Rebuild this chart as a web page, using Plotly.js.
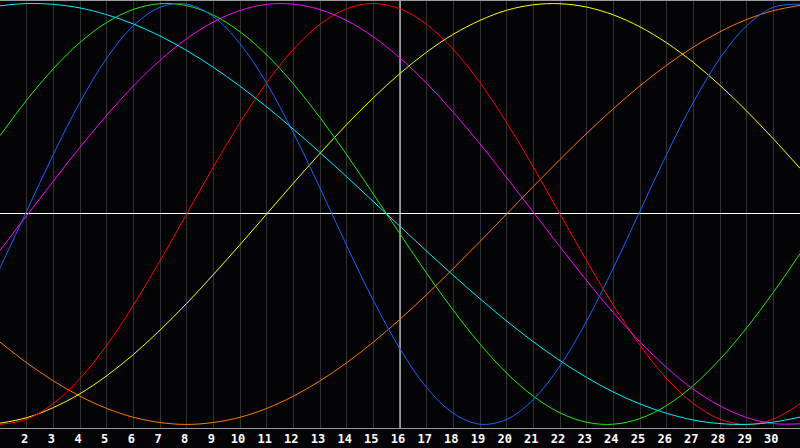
<!DOCTYPE html>
<html>
<head>
<meta charset="utf-8">
<script src="https://cdn.plot.ly/plotly-3.0.1.min.js"></script>
<style>
html,body{margin:0;padding:0;background:#040306;}
#chart{width:800px;height:448px;}
</style>
</head>
<body>
<div id="chart"></div>
<script>
// Days of the month shown on the x axis
const days = [1,2,3,4,5,6,7,8,9,10,11,12,13,14,15,16,17,18,19,20,21,22,23,24,25,26,27,28,29,30,31];
const tickDays = [2,3,4,5,6,7,8,9,10,11,12,13,14,15,16,17,18,19,20,21,22,23,24,25,26,27,28,29,30];
const tickLabels = ["2","3","4","5","6","7","8","9","10","11","12","13","14","15","16","17","18","19","20","21","22","23","24","25","26","27","28","29","30"];
const todayDay = 16;

// Series values (one per day)
const blueSeries = [-0.257,0.014,0.283,0.531,0.740,0.894,0.982,0.997,0.938,0.809,0.621,0.386,0.123,-0.150,-0.411,-0.641,-0.825,-0.947,-0.999,-0.976,-0.882,-0.722,-0.508,-0.257,0.014,0.283,0.531,0.740,0.894,0.982,0.997];
const redSeries = [-1.000,-0.975,-0.901,-0.782,-0.624,-0.434,-0.223,0.000,0.223,0.434,0.624,0.782,0.901,0.975,1.000,0.975,0.901,0.782,0.624,0.434,0.223,0.000,-0.223,-0.434,-0.624,-0.782,-0.901,-0.975,-1.000,-0.975,-0.901];
const greenSeries = [0.372,0.541,0.690,0.815,0.910,0.972,0.999,0.990,0.945,0.866,0.756,0.618,0.458,0.282,0.095,-0.095,-0.282,-0.458,-0.618,-0.756,-0.866,-0.945,-0.990,-0.999,-0.972,-0.910,-0.815,-0.690,-0.541,-0.372,-0.189];
const magentaSeries = [-0.173,-0.008,0.156,0.317,0.469,0.608,0.730,0.833,0.912,0.967,0.996,0.997,0.971,0.919,0.842,0.741,0.621,0.483,0.333,0.173,0.008,-0.156,-0.317,-0.469,-0.608,-0.730,-0.833,-0.912,-0.967,-0.996,-0.997];
const yellowSeries = [-0.994,-0.968,-0.920,-0.854,-0.769,-0.668,-0.552,-0.425,-0.288,-0.146,0.000,0.146,0.288,0.425,0.552,0.668,0.769,0.854,0.920,0.968,0.994,0.999,0.983,0.946,0.889,0.813,0.720,0.611,0.489,0.357,0.217];
const orangeSeries = [-0.609,-0.707,-0.793,-0.866,-0.924,-0.966,-0.991,-1.000,-0.991,-0.966,-0.924,-0.866,-0.793,-0.707,-0.609,-0.500,-0.383,-0.259,-0.131,0.000,0.131,0.259,0.383,0.500,0.609,0.707,0.793,0.866,0.924,0.966,0.991];
const cyanSeries = [0.989,1.000,0.996,0.979,0.947,0.903,0.846,0.777,0.697,0.607,0.509,0.403,0.292,0.177,0.059,-0.059,-0.177,-0.292,-0.403,-0.509,-0.607,-0.697,-0.777,-0.846,-0.903,-0.947,-0.979,-0.996,-1.000,-0.989,-0.965];

const seriesList = [
  {name:"orange", y: orangeSeries, color:"#ff7a00"},
  {name:"yellow", y: yellowSeries, color:"#ffff00"},
  {name:"red", y: redSeries, color:"#ff0000"},
  {name:"magenta", y: magentaSeries, color:"#ff00ff"},
  {name:"green", y: greenSeries, color:"#22ee00"},
  {name:"blue", y: blueSeries, color:"#1466ff"},
  {name:"cyan", y: cyanSeries, color:"#00f0ff"}
];

const traces = seriesList.map(s => ({
  x: days, y: s.y, name: s.name, type: "scatter", mode: "lines",
  line: {color: s.color, width: 1, shape: "spline", smoothing: 1},
  hoverinfo: "skip"
}));

const layout = {
  width: 800, height: 448,
  margin: {l: 0, r: 0, t: 1, b: 20, pad: 0},
  paper_bgcolor: "#040306",
  plot_bgcolor: "#040306",
  showlegend: false,
  xaxis: {
    range: [1, 31], tickmode: "array", tickvals: tickDays, ticktext: tickLabels,
    showgrid: true, gridcolor: "#333333", gridwidth: 1,
    zeroline: false, showline: true, linecolor: "#9a9a9a", linewidth: 1, mirror: true,
    ticks: "", ticklabelshift: -2, ticklabelstandoff: 0,
    tickfont: {family: "DejaVu Sans Mono", size: 12, color: "#ffffff", weight: "bold"},
    fixedrange: true
  },
  yaxis: {
    range: [-1.017, 1.012], showgrid: false, showticklabels: false, ticks: "",
    zeroline: true, zerolinecolor: "#ffffff", zerolinewidth: 1,
    showline: true, linecolor: "#9a9a9a", linewidth: 2,
    fixedrange: true
  },
  shapes: [
    {type: "line", xref: "x", yref: "y", x0: todayDay, x1: todayDay, y0: -1.017, y1: 1.012,
     line: {color: "#ffffff", width: 1}, layer: "between"}
  ]
};

Plotly.newPlot("chart", traces, layout, {displayModeBar: false, staticPlot: true});
</script>
</body>
</html>
